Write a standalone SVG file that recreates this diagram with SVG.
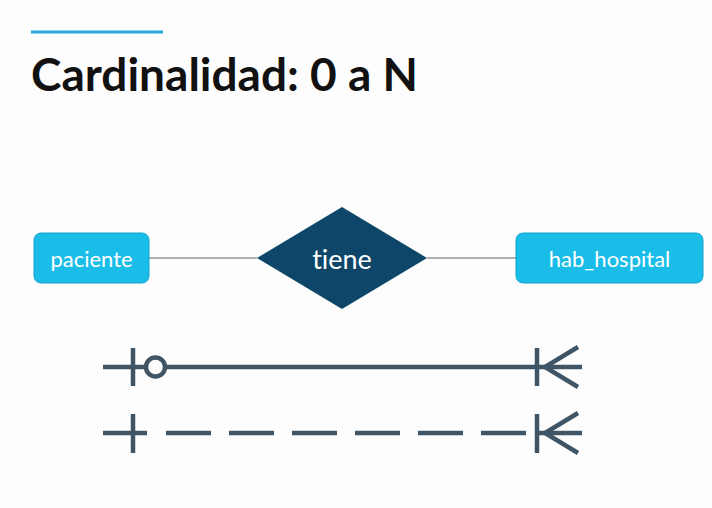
<svg xmlns="http://www.w3.org/2000/svg" width="712" height="508" viewBox="0 0 712 508">
  <defs>
    <style>
      text { font-variant-ligatures: none; }
      .entity rect { fill: #19bde8; stroke: #12a3cc; stroke-width: 1; }
      .lbl { font-family: Lato, "Liberation Sans", sans-serif; fill: #ffffff; text-anchor: middle; dominant-baseline: central; }
      .conn { stroke: #5a6670; stroke-width: 1.2; fill: none; }
      .card { stroke: #3f5566; stroke-width: 4.5; fill: none; stroke-linecap: butt; }
    </style>
  </defs>
  <rect width="712" height="508" fill="#fdfdfd"/>
  <line x1="31" y1="32" x2="163" y2="32" stroke="#2aa7db" stroke-width="3"/>
  <text x="31" y="91" font-family="Lato, 'Liberation Sans', sans-serif" font-weight="bold" font-size="46" fill="#111111">Cardinalidad: 0 a N</text>

  <g id="connectors">
    <line class="conn" x1="149" y1="258" x2="257" y2="258"/>
    <line class="conn" x1="427" y1="258" x2="516" y2="258"/>
  </g>

  <g id="paciente" class="entity">
    <rect x="34" y="233" width="115" height="50" rx="7"/>
    <text class="lbl" x="91.5" y="258" font-size="22">paciente</text>
  </g>

  <g id="tiene">
    <polygon points="257,258 342,207 427,258 342,309" fill="#0d4668"/>
    <text class="lbl" x="342" y="258" font-size="27">tiene</text>
  </g>

  <g id="hab_hospital" class="entity">
    <rect x="516" y="233" width="187" height="50" rx="7"/>
    <text class="lbl" x="609.5" y="258" font-size="22">hab_hospital</text>
  </g>

  <g id="notation">
    <line class="card" x1="103" y1="367" x2="146" y2="367"/>
    <line class="card" x1="133" y1="348" x2="133" y2="386"/>
    <circle class="card" cx="155.5" cy="367" r="9.5"/>
    <line class="card" x1="165" y1="367" x2="582" y2="367"/>
    <line class="card" x1="537" y1="348" x2="537" y2="386"/>
    <polyline class="card" points="578,347 545,367 578,387"/>

    <line class="card" x1="103" y1="433" x2="147" y2="433"/>
    <line class="card" x1="133" y1="414" x2="133" y2="453"/>
    <line class="card" x1="166" y1="433" x2="528" y2="433" stroke-dasharray="45 18"/>
    <line class="card" x1="537" y1="414" x2="537" y2="453"/>
    <line class="card" x1="537" y1="433" x2="582" y2="433"/>
    <polyline class="card" points="578,413 545,433 578,453"/>
  </g>
</svg>
